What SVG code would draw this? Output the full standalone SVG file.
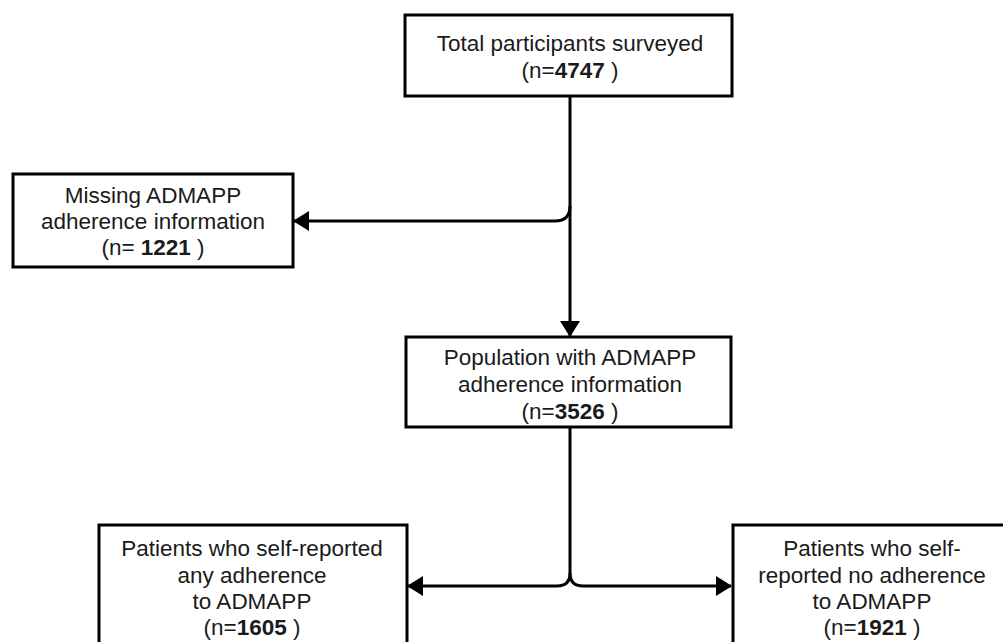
<svg xmlns="http://www.w3.org/2000/svg" width="1003" height="642" viewBox="0 0 1003 642">
<style>
.box{fill:#fff;stroke:#000;stroke-width:3}
.t{font-family:"Liberation Sans",Arial,sans-serif;font-size:22.5px;fill:#1a1a1a;text-anchor:middle}
.b{font-weight:bold}
.c{fill:none;stroke:#000;stroke-width:3}
</style>
<defs>
<marker id="ah" markerUnits="userSpaceOnUse" markerWidth="16" markerHeight="20" refX="15" refY="10" orient="auto">
<path d="M0,0 L16,10 L0,20 Z" fill="#000"/>
</marker>
</defs>
<rect width="1003" height="642" fill="#fff"/>
<g id="connectors">
<path class="c" d="M570,96 L570,336" marker-end="url(#ah)"/>
<path class="c" d="M570,206 Q570,221 555,221 L294,221" marker-end="url(#ah)"/>
<path class="c" d="M570,427 L570,573 Q570,586 557,586 L408,586" marker-end="url(#ah)"/>
<path class="c" d="M570,573 Q570,586 583,586 L731,586" marker-end="url(#ah)"/>
</g>
<g id="n1">
<rect class="box" x="405" y="15" width="327" height="81"/>
<text class="t" x="570" y="51">Total participants surveyed</text>
<text class="t" x="570" y="78">(n=<tspan class="b">4747</tspan> )</text>
</g>
<g id="n2">
<rect class="box" x="13" y="174" width="280" height="93"/>
<text class="t" x="153" y="203">Missing ADMAPP</text>
<text class="t" x="153" y="229">adherence information</text>
<text class="t" x="153" y="255">(n= <tspan class="b">1221</tspan> )</text>
</g>
<g id="n3">
<rect class="box" x="406" y="337" width="325" height="90"/>
<text class="t" x="570" y="365">Population with ADMAPP</text>
<text class="t" x="570" y="392">adherence information</text>
<text class="t" x="570" y="419">(n=<tspan class="b">3526</tspan> )</text>
</g>
<g id="n4">
<rect class="box" x="99" y="525" width="308" height="130"/>
<text class="t" x="252" y="556">Patients who self-reported</text>
<text class="t" x="252" y="583">any adherence</text>
<text class="t" x="252" y="609">to ADMAPP</text>
<text class="t" x="252" y="635">(n=<tspan class="b">1605</tspan> )</text>
</g>
<g id="n5">
<rect class="box" x="733" y="525" width="290" height="130"/>
<text class="t" x="872" y="556">Patients who self-</text>
<text class="t" x="872" y="583">reported no adherence</text>
<text class="t" x="872" y="609">to ADMAPP</text>
<text class="t" x="872" y="635">(n=<tspan class="b">1921</tspan> )</text>
</g>
</svg>
